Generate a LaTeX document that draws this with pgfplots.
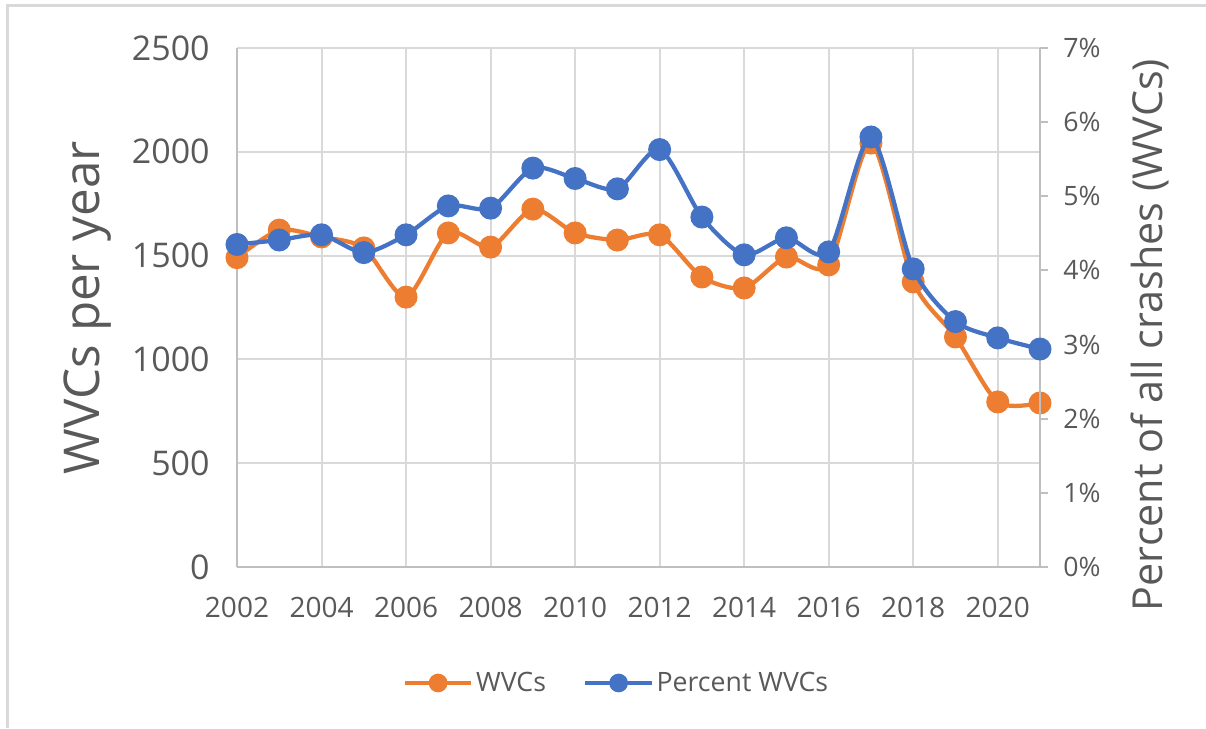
\documentclass[border=0pt]{standalone}
\usepackage{pgfplots}
\pgfplotsset{compat=1.18}
\usepackage{fontspec}
\setmainfont{Open Sans}
\definecolor{wvcorange}{HTML}{ED7D31}
\definecolor{wvcblue}{HTML}{4472C4}
\definecolor{gridgray}{HTML}{D9D9D9}
\definecolor{axisgray}{HTML}{BFBFBF}
\definecolor{textgray}{HTML}{595959}
\begin{document}
\begin{tikzpicture}
\useasboundingbox (0,0) rectangle (904.5pt,546pt);
\draw[gridgray, line width=2.25pt] (5.6pt,0) -- (5.6pt,541.5pt) -- (904.5pt,541.5pt);
\pgfplotsset{
  base/.style={
    at={(177.75pt,120.75pt)}, anchor=south west,
    scale only axis, width=602.25pt, height=389.25pt,
    xmin=2002, xmax=2021,
    /pgf/number format/assume math mode=true,
    /pgf/number format/1000 sep={},
    tick label style={text=textgray},
    clip=false,
  },
  legline/.style={
    legend image code/.code={
      \draw[##1, line width=3pt, mark size=5.5pt, mark repeat=2, mark phase=2]
        plot coordinates {(0pt,0pt) (25pt,0pt) (50pt,0pt)};
    }
  },
}
\begin{axis}[base,
  ymin=0, ymax=2500, ytick={0,500,...,2500},
  xtick={2002,2004,...,2020},
  axis x line*=bottom, axis y line*=left,
  axis line style={axisgray, line width=1.5pt, -},
  grid=major, major grid style={gridgray, line width=1.5pt},
  major tick length=0pt,
  xticklabel style={font=\fontsize{21}{25}\selectfont, yshift=-19pt},
  yticklabel style={font=\fontsize{25.5}{30}\selectfont, xshift=-17pt},
  ylabel={WVCs per year},
  every axis y label/.style={at={(axis description cs:-0.1856,0.5)}, rotate=90, anchor=center,
    font=\fontsize{37}{44}\selectfont, text=textgray},
  legend style={at={(axis description cs:0.473,-0.2235)}, anchor=center, draw=none,
    legend columns=2, font=\fontsize{20}{24}\selectfont, text=textgray,
    /tikz/every even column/.append style={column sep=26pt},
    legend cell align=left},
  legline,
]
\addplot[wvcorange, line width=3.2pt, smooth, tension=0.45, mark=*, mark size=7pt,
  mark options={fill=wvcorange, draw=wvcorange}] coordinates {
  (2002,1490) (2003,1623) (2004,1590) (2005,1537) (2006,1300)
  (2007,1609) (2008,1541) (2009,1724) (2010,1609) (2011,1575)
  (2012,1600) (2013,1397) (2014,1344) (2015,1493) (2016,1455)
  (2017,2042) (2018,1373) (2019,1108) (2020,795) (2021,790)
};
\addlegendentry{WVCs}
\addlegendimage{wvcblue, mark=*, mark options={fill=wvcblue, draw=wvcblue}}
\addlegendentry{Percent WVCs}
\end{axis}
\begin{axis}[base,
  axis x line=none, axis y line*=right,
  ymin=0, ymax=7, ytick={0,1,...,7},
  yticklabel={\pgfmathprintnumber{\tick}\%},
  axis line style={axisgray, line width=1.5pt, -},
  major tick style={axisgray, line width=1.5pt},
  tick align=outside, major tick length=6pt,
  yticklabel style={font=\fontsize{20}{24}\selectfont, xshift=8pt},
  ylabel={Percent of all crashes (WVCs)},
  every axis y label/.style={at={(axis description cs:1.137,0.447)}, rotate=90, anchor=center,
    font=\fontsize{31}{37}\selectfont, text=textgray},
]
\addplot[wvcblue, line width=3.2pt, smooth, tension=0.45, mark=*, mark size=7pt,
  mark options={fill=wvcblue, draw=wvcblue}] coordinates {
  (2002,4.35) (2003,4.41) (2004,4.48) (2005,4.24) (2006,4.48)
  (2007,4.87) (2008,4.84) (2009,5.38) (2010,5.24) (2011,5.10)
  (2012,5.63) (2013,4.72) (2014,4.21) (2015,4.44) (2016,4.25)
  (2017,5.80) (2018,4.02) (2019,3.31) (2020,3.09) (2021,2.94)
};
\end{axis}
\end{tikzpicture}
\end{document}
